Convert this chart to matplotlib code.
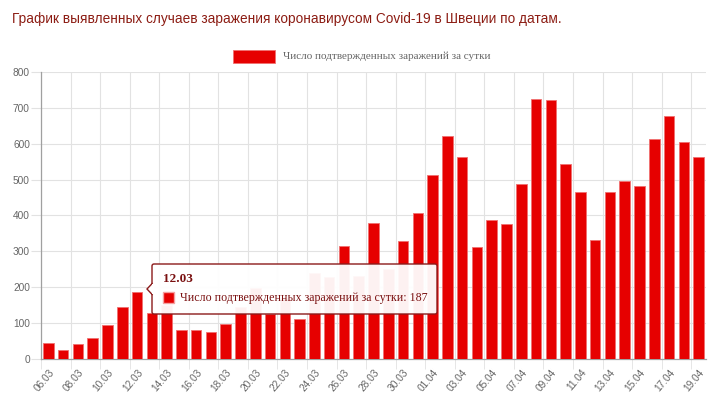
import matplotlib
matplotlib.use("Agg")
import matplotlib.pyplot as plt
from matplotlib.patches import FancyBboxPatch, Rectangle, Polygon
import numpy as np

title = "График выявленных случаев заражения коронавирусом Covid-19 в Швеции по датам."
series_name = "Число подтвержденных заражений за сутки"

dates = (["%02d.03" % d for d in range(6, 32)] + ["%02d.04" % d for d in range(1, 20)])
cases = [43, 24, 42, 58, 94, 145, 187, 127, 150, 79, 81, 75, 97, 145, 198, 125, 170,
         112, 240, 229, 314, 230, 378, 250, 328, 407, 512, 621, 563, 312, 387, 376,
         487, 726, 722, 544, 466, 332, 465, 497, 482, 613, 676, 606, 563]
tooltip_idx = 6

W, H = 714, 394
fig = plt.figure(figsize=(W / 100, H / 100), dpi=100)
L, R, T, B = 41, 706, 72, 358.7
ax = fig.add_axes([L / W, (H - B) / H, (R - L) / W, (B - T) / H])

x = np.arange(len(dates))
ax.bar(x, cases, width=0.72, color="#e60000", edgecolor="#f07070", linewidth=0.6, zorder=3)
ax.set_xlim(-0.5, len(dates) - 0.5)
ax.set_ylim(0, 800)
ax.set_yticks(range(0, 801, 100))

grid_c = "#e2e2e2"
ax.tick_params(axis="y", length=7, color=grid_c, labelsize=7.3, labelcolor="#666666", pad=1)
for lab in ax.get_yticklabels():
    lab.set_fontfamily("Liberation Sans")
ax.grid(axis="y", color=grid_c, linewidth=0.8, zorder=0)

# x labels at every other bar center
ax.set_xticks(x[::2])
ax.set_xticklabels(dates[::2], rotation=50, ha="right", rotation_mode="anchor",
                   fontsize=7.3, color="#666666", family="Liberation Sans")
ax.tick_params(axis="x", length=0, pad=6)
# vertical grid lines at category boundaries
bounds = x[::2] - 0.5
ax.set_xticks(bounds, minor=True)
ax.tick_params(axis="x", which="minor", length=7, color=grid_c)
ax.grid(axis="x", which="minor", color=grid_c, linewidth=0.8, zorder=0)

for s in ["top", "right"]:
    ax.spines[s].set_visible(False)
for s in ["left", "bottom"]:
    ax.spines[s].set_color("#a0a0a0")
    ax.spines[s].set_linewidth(0.9)

# title
fig.text(12 / W, 1 - 19 / H, title, fontsize=9.8, color="#8c1c13",
         family="Liberation Sans", va="center", ha="left")

# overlay in pixel coordinates
ov = fig.add_axes([0, 0, 1, 1], zorder=10)
ov.set_xlim(0, W)
ov.set_ylim(H, 0)
ov.axis("off")
ov.patch.set_alpha(0)

# legend
ov.add_patch(Rectangle((233, 50), 42, 12.5, facecolor="#e60000", edgecolor="#f07070", linewidth=0.6))
ov.text(283, 56.5, series_name, fontsize=8.0, color="#666666", family="Liberation Serif",
        va="center", ha="left")

# tooltip
tx0, ty0, tx1, ty1 = 152, 264, 437, 314
box = FancyBboxPatch((tx0, ty0), tx1 - tx0, ty1 - ty0, boxstyle="round,pad=0,rounding_size=2",
                     facecolor=(1, 1, 1, 0.95), edgecolor="#8b1a1a", linewidth=1.0)
ov.add_patch(box)
ov.add_patch(Polygon([(tx0 + 0.6, 283), (tx0 - 5, 289), (tx0 + 0.6, 295)], closed=False,
                     facecolor=(1, 1, 1, 1), edgecolor="#8b1a1a", linewidth=1.0))
ov.add_patch(Rectangle((tx0 + 0.3, 284), 1.5, 10, facecolor="white", edgecolor="none"))
ov.text(163, 279.5, dates[tooltip_idx], fontsize=9.5, fontweight="bold", color="#7a1010",
        family="Liberation Serif", va="center", ha="left")
ov.add_patch(Rectangle((162.5, 292), 11, 11, facecolor="#e60000", edgecolor="#f5a0a0", linewidth=1))
ov.text(180, 298, "%s: %d" % (series_name, cases[tooltip_idx]), fontsize=8.6, color="#7a1010",
        family="Liberation Serif", va="center", ha="left")

fig.savefig("out.png", dpi=100)
